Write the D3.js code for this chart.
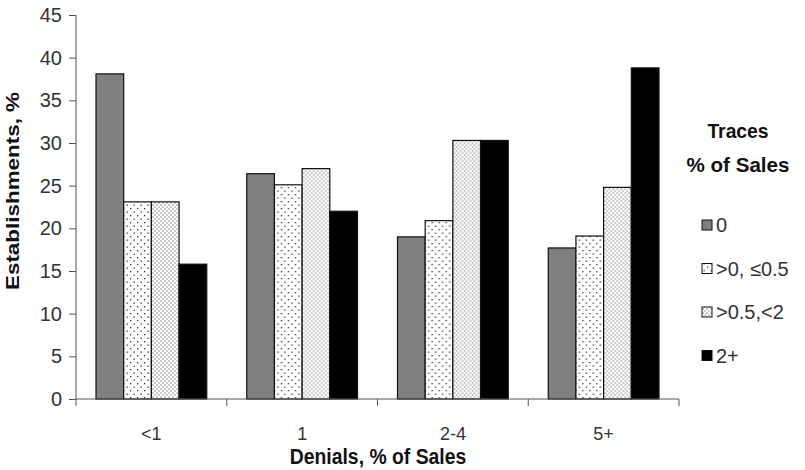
<html>
<head>
<script src="https://d3js.org/d3.v7.min.js"></script>
<style>
  body { margin: 0; background: #fff; }
  text { font-family: "Liberation Sans", Arial, sans-serif; }
</style>
</head>
<body>
<div id="chart"></div>
<script>
var categories = ["<1", "1", "2-4", "5+"];
var seriesNames = ["0", ">0, \u22640.5", ">0.5,<2", "2+"];
var v0 = [38.1, 26.4, 19.0, 17.7];
var v1 = [23.1, 25.1, 20.9, 19.1];
var v2 = [23.1, 27.0, 30.3, 24.8];
var v3 = [15.8, 22.0, 30.3, 38.8];
var yTicks = [0, 5, 10, 15, 20, 25, 30, 35, 40, 45];

var series = [v0, v1, v2, v3];

var svg = d3.select("#chart").append("svg")
  .attr("width", 805).attr("height", 470);

var defs = svg.append("defs");

// sparse dots
var p1 = defs.append("pattern").attr("id", "sparse")
  .attr("patternUnits", "userSpaceOnUse").attr("width", 7).attr("height", 7);
p1.append("rect").attr("width", 7).attr("height", 7).attr("fill", "#fff");
p1.append("rect").attr("x", 1.5).attr("y", 1.5).attr("width", 1.3).attr("height", 1.3).attr("fill", "#333");
p1.append("rect").attr("x", 5).attr("y", 5).attr("width", 1.3).attr("height", 1.3).attr("fill", "#333");

// dense dots
var p2 = defs.append("pattern").attr("id", "dense")
  .attr("patternUnits", "userSpaceOnUse").attr("width", 4).attr("height", 4);
p2.append("rect").attr("width", 4).attr("height", 4).attr("fill", "#fff");
p2.append("rect").attr("x", 0.5).attr("y", 0.5).attr("width", 1.1).attr("height", 1.1).attr("fill", "#555");
p2.append("rect").attr("x", 2.5).attr("y", 2.5).attr("width", 1.1).attr("height", 1.1).attr("fill", "#555");

var fills = ["#808080", "url(#sparse)", "url(#dense)", "#000"];

// squeeze or stretch text along its run, like the reference's distorted type
function fit(sel, k) {
  sel.each(function() {
    var len = this.getComputedTextLength();
    d3.select(this).attr("textLength", len * k).attr("lengthAdjust", "spacingAndGlyphs");
  });
}

var x0 = d3.scaleBand().domain(categories).range([76, 679]).paddingInner(0).paddingOuter(0);
var x1 = d3.scaleBand().domain(d3.range(4)).range([20, x0.bandwidth() - 20]).padding(0);
var y = d3.scaleLinear().domain([0, 45]).range([399, 15]);

// y axis
var yAxis = svg.append("g").attr("transform", "translate(76,0)")
  .call(d3.axisLeft(y).tickValues(yTicks).tickSize(7).tickPadding(7));
yAxis.selectAll("text").attr("font-size", 20).attr("fill", "#333");
yAxis.selectAll("line, path").attr("stroke", "#555");
yAxis.select(".domain").attr("d", "M0,399V15");

// bars
var groups = svg.selectAll(".grp").data(categories).enter().append("g")
  .attr("transform", function(d) { return "translate(" + x0(d) + ",0)"; });

groups.selectAll("rect").data(function(d, i) {
    return series.map(function(s, j) { return { j: j, v: s[i] }; });
  }).enter().append("rect")
  .attr("x", function(d) { return x1(d.j); })
  .attr("y", function(d) { return y(d.v); })
  .attr("width", x1.bandwidth())
  .attr("height", function(d) { return y(0) - y(d.v); })
  .attr("fill", function(d) { return fills[d.j]; })
  .attr("stroke", "#111").attr("stroke-width", 1.2);

// x axis
var xAxis = svg.append("g").attr("transform", "translate(0,399)")
  .call(d3.axisBottom(x0).tickSize(0).tickPadding(28));
xAxis.selectAll("text").attr("font-size", 18).attr("fill", "#333");
xAxis.select(".domain").attr("stroke", "#555").attr("d", "M76,0H679");
var bounds = categories.map(function(c) { return x0(c); }).concat([679]);
svg.append("g").selectAll("line").data(bounds).enter().append("line")
  .attr("x1", function(d) { return d; }).attr("x2", function(d) { return d; })
  .attr("y1", 399).attr("y2", 406).attr("stroke", "#555");

// axis titles
svg.append("text").attr("x", 378).attr("y", 464).attr("text-anchor", "middle")
  .attr("font-size", 22).attr("font-weight", "bold").attr("fill", "#111")
  .text("Denials, % of Sales").call(fit, 0.88);
svg.append("text").attr("transform", "translate(19,191) rotate(-90)")
  .attr("text-anchor", "middle").attr("font-size", 19).attr("font-weight", "bold").attr("fill", "#111")
  .text("Establishments, %").call(fit, 1.18);

// legend
var lg = svg.append("g");
lg.append("text").attr("x", 738).attr("y", 138).attr("text-anchor", "middle")
  .attr("font-size", 21).attr("font-weight", "bold").attr("fill", "#111").text("Traces").call(fit, 0.92);
lg.append("text").attr("x", 738).attr("y", 172).attr("text-anchor", "middle")
  .attr("font-size", 21).attr("font-weight", "bold").attr("fill", "#111").text("% of Sales").call(fit, 0.98);
var items = lg.selectAll(".it").data(seriesNames).enter().append("g")
  .attr("transform", function(d, i) { return "translate(702," + (225 + i * 43.5) + ")"; });
items.append("rect").attr("x", 0).attr("y", -5).attr("width", 10).attr("height", 10)
  .attr("fill", function(d, i) { return fills[i]; }).attr("stroke", "#111").attr("stroke-width", 1);
items.append("text").attr("x", 14).attr("y", 7).attr("font-size", 20).attr("fill", "#333")
  .text(function(d) { return d; });
</script>
</body>
</html>
